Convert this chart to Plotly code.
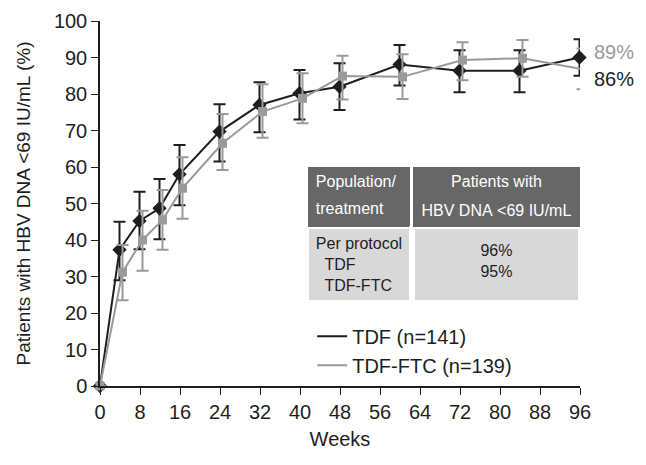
import plotly.graph_objects as go

# weeks on study
weeks = [0, 4, 8, 12, 16, 24, 32, 40, 48, 60, 72, 84, 96]

# TDF (n=141): % with HBV DNA <69 IU/mL, with upper / lower CI ends
tdf = [0, 37.3, 45.2, 48.7, 58.0, 69.7, 77.0, 80.2, 82.0, 88.1, 86.4, 86.4, 90.0]
tdf_hi = [0, 45.0, 53.2, 56.7, 66.0, 77.2, 83.2, 86.6, 88.4, 93.4, 92.0, 92.0, 95.0]
tdf_lo = [0, 29.0, 37.5, 40.2, 49.5, 61.5, 69.5, 73.0, 75.6, 82.3, 80.5, 80.5, 85.0]

# TDF-FTC (n=139)
ftc = [0, 31.2, 40.0, 45.5, 54.2, 66.5, 75.2, 78.8, 84.9, 84.7, 89.3, 89.8, 86.8]
ftc_hi = [0, 38.6, 48.0, 53.7, 62.7, 74.5, 82.7, 85.7, 90.5, 90.9, 94.2, 94.8, 92.5]
ftc_lo = [0, 23.5, 31.6, 37.3, 45.8, 59.2, 68.0, 72.0, 78.5, 78.6, 83.8, 84.7, 81.3]

end_labels = ["89%", "86%"]
x_ticks = list(range(0, 97, 8))
y_ticks = list(range(0, 101, 10))

# inset table (header given one line per row so each line is centred);
# no-break spaces stop plotly from wrapping the long header line
head_col1 = ["Population/", "treatment"]
head_col2 = ["Patients with", "HBV\u00a0DNA\u00a0<69\u00a0IU/mL"]
body_col1 = ["Per protocol<br>  TDF<br>  TDF-FTC"]
body_col2 = ["<br>96%<br>95%"]

BLACK = "#1e1e1e"
GREY = "#9a9a9a"
DARK = "#676767"
LIGHT = "#d8d8d8"
FONT = "Liberation Sans, Arial, sans-serif"


def err(vals, hi, lo):
    return dict(type="data", symmetric=False,
                array=[h - v for h, v in zip(hi, vals)],
                arrayminus=[v - l for v, l in zip(vals, lo)],
                thickness=2, width=6)


fig = go.Figure()

e = err(tdf, tdf_hi, tdf_lo)
e["color"] = BLACK
fig.add_trace(go.Scatter(
    x=[w - 0.1 if w else w for w in weeks], y=tdf, mode="lines+markers",
    line=dict(color=BLACK, width=2),
    marker=dict(symbol="diamond", size=11, color=BLACK),
    error_y=e, showlegend=False, cliponaxis=False))

e = err(ftc, ftc_hi, ftc_lo)
e["color"] = GREY
fig.add_trace(go.Scatter(
    x=[w + 0.5 if w else w for w in weeks], y=ftc, mode="lines+markers",
    line=dict(color=GREY, width=2),
    marker=dict(symbol="square", size=9, color=GREY),
    error_y=e, showlegend=False, cliponaxis=False))

# legend entries (lines only)
fig.add_trace(go.Scatter(x=[None], y=[None], mode="lines", name="TDF (n=141)",
                         line=dict(color=BLACK, width=2)))
fig.add_trace(go.Scatter(x=[None], y=[None], mode="lines", name="TDF-FTC (n=139)",
                         line=dict(color=GREY, width=2)))

fig.add_trace(go.Table(
    domain=dict(x=[0.433, 1.0], y=[0.22, 0.6]),
    columnwidth=[103, 3, 168],
    header=dict(values=[head_col1, ["", ""], head_col2],
                fill_color=[DARK, "white", DARK], height=27,
                align=["left", "center", "center"],
                font=dict(color="white", size=16, family=FONT),
                line=dict(width=0)),
    cells=dict(values=[body_col1, [""], body_col2],
               fill_color=[LIGHT, "white", LIGHT], height=70,
               align=["left", "center", "center"],
               font=dict(color=BLACK, size=16, family=FONT),
               line=dict(color="white", width=3)),
))

fig.add_annotation(x=1.025, xref="paper", y=91.5, yref="y", text=end_labels[0],
                   showarrow=False, xanchor="left",
                   font=dict(size=20, color=GREY, family=FONT))
fig.add_annotation(x=1.025, xref="paper", y=84, yref="y", text=end_labels[1],
                   showarrow=False, xanchor="left",
                   font=dict(size=20, color=BLACK, family=FONT))

# page body adds 8px around the figure, so the figure is sized to fit
fig.update_layout(
    width=638, height=457,
    margin=dict(l=92, r=66, t=13, b=79),
    plot_bgcolor="white", paper_bgcolor="white",
    font=dict(family=FONT, size=20, color=BLACK),
    legend=dict(x=0.442, y=0.19, xanchor="left", yanchor="top",
                bgcolor="rgba(0,0,0,0)", font=dict(size=20),
                tracegroupgap=0, itemwidth=30),
    xaxis=dict(range=[0, 96], tickvals=x_ticks, showgrid=False, zeroline=False,
               showline=True, linecolor=BLACK, linewidth=1.5,
               ticks="outside", ticklen=7, tickcolor=BLACK, automargin=False,
               title=dict(text="Weeks", standoff=10, font=dict(size=20))),
    yaxis=dict(range=[0, 100], tickvals=y_ticks, showgrid=False, zeroline=False,
               showline=True, linecolor=BLACK, linewidth=1.5,
               ticks="outside", ticklen=7, tickcolor=BLACK, automargin=False,
               title=dict(text="Patients with HBV DNA <69 IU/mL (%)", standoff=18,
                          font=dict(size=19))),
)

fig.write_html("out.html")
